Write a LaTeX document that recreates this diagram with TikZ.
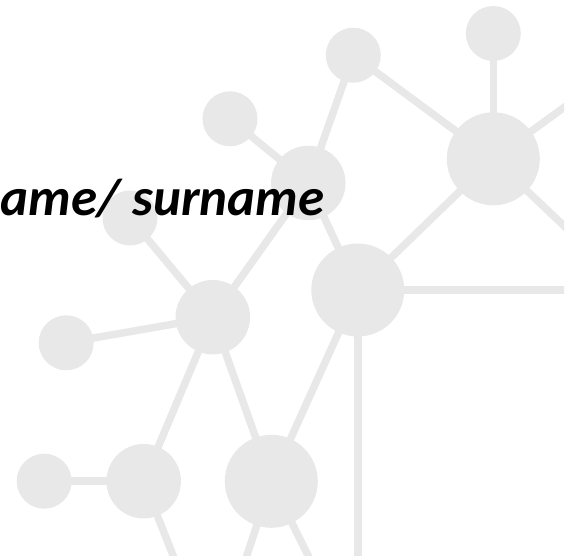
\documentclass[tikz,border=0pt]{standalone}
\usepackage{fontspec}
\setmainfont{Carlito}
\definecolor{netgray}{RGB}{232,232,232}
\tikzset{
  dot/.style={circle, fill=netgray, draw=none, inner sep=0pt},
  smalldot/.style={dot, minimum size=55pt},
  meddot/.style={dot, minimum size=74.5pt},
  bigdot/.style={dot, minimum size=93pt},
  edge/.style={draw=netgray, line width=7.5pt},
  title/.style={font=\fontsize{53}{58}\selectfont\bfseries\itshape, text=black, inner sep=0pt}
}
\begin{document}
\begin{tikzpicture}[x=1pt,y=1pt]
\useasboundingbox (0,0) rectangle (576,-556);
\begin{scope}
\clip (0,0) rectangle (564,-556);
% nodes
\node[smalldot] (c1) at (493.3,-33.5) {};
\node[smalldot] (c2) at (353.3,-55.2) {};
\node[smalldot] (c3) at (230,-118.8) {};
\node[meddot]   (c4) at (308.3,-183) {};
\node[bigdot]   (c5) at (493.3,-158.8) {};
\node[smalldot] (c6) at (130,-218) {};
\node[bigdot]   (c7) at (357.8,-290) {};
\node[meddot]   (c8) at (212.8,-317.2) {};
\node[smalldot] (c9) at (66.2,-342.8) {};
\node[meddot]   (c10) at (143.7,-481.2) {};
\node[smalldot] (c11) at (44.2,-481.2) {};
\node[bigdot]   (c12) at (271.3,-481.3) {};
% free ends
\coordinate (e1) at (600,-81.3);
\coordinate (e2) at (600,-260);
\coordinate (e3) at (600,-290);
\coordinate (e4) at (357.8,-600);
\coordinate (e5) at (190.7,-600);
\coordinate (e6) at (232.2,-600);
\coordinate (e7) at (330.1,-600);
% edges
\draw[edge] (c1.center) -- (c5.center);
\draw[edge] (c5.center) -- (e1);
\draw[edge] (c5.center) -- (e2);
\draw[edge] (c2.center) -- (c5.center);
\draw[edge] (c2.center) -- (c4.center);
\draw[edge] (c3.center) -- (c4.center);
\draw[edge] (c4.center) -- (c7.center);
\draw[edge] (c4.center) -- (c8.center);
\draw[edge] (c6.center) -- (c8.center);
\draw[edge] (c5.center) -- (c7.center);
\draw[edge] (c7.center) -- (e3);
\draw[edge] (c7.center) -- (e4);
\draw[edge] (c7.center) -- (c12.center);
\draw[edge] (c8.center) -- (c9.center);
\draw[edge] (c8.center) -- (c10.center);
\draw[edge] (c8.center) -- (c12.center);
\draw[edge] (c10.center) -- (c11.center);
\draw[edge] (c10.center) -- (e5);
\draw[edge] (c12.center) -- (e6);
\draw[edge] (c12.center) -- (e7);
\end{scope}
\node[title, anchor=base west] (name) at (0.5,-215.5) {ame/ surname};
\end{tikzpicture}
\end{document}
